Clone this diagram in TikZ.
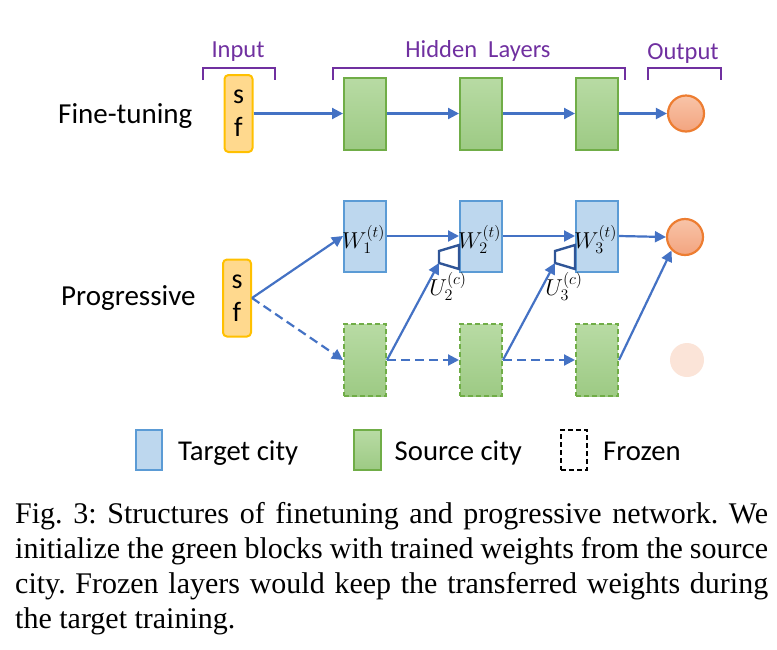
\RequirePackage{fix-cm}
\documentclass[tikz,border=0pt]{standalone}
\usepackage{fontspec}
\setmainfont{Carlito}
\newfontfamily\captionfont{Liberation Serif}
\usetikzlibrary{positioning,calc,arrows.meta}

\definecolor{flowblue}{HTML}{4472C4}
\definecolor{titlepurple}{HTML}{7030A0}
\definecolor{inputfill}{HTML}{FFD98E}
\definecolor{inputedge}{HTML}{FFC000}
\definecolor{targetfill}{HTML}{BDD7EE}
\definecolor{targetedge}{HTML}{5B9BD5}
\definecolor{sourcetop}{HTML}{B8DBA4}
\definecolor{sourcebottom}{HTML}{9DCA84}
\definecolor{sourceedge}{HTML}{70AD47}
\definecolor{outtop}{HTML}{F8C4A8}
\definecolor{outbottom}{HTML}{F3A47F}
\definecolor{outedge}{HTML}{ED7D31}
\definecolor{ghostfill}{HTML}{FBE4D8}
\definecolor{adapteredge}{HTML}{2F5597}

\tikzset{
    row-label/.style = {anchor=base west, inner sep=0pt, font=\fontsize{29}{35}\selectfont},
    title-text/.style = {anchor=base, inner sep=0pt, text=titlepurple, font=\fontsize{24.5}{30}\selectfont},
    bracket-line/.style = {draw=titlepurple, line width=2.6pt},
    input-box/.style = {draw=inputedge, fill=inputfill, line width=2pt, rounded corners=4pt, minimum width=28pt, minimum height=77pt, inner sep=0pt, align=center, font=\fontsize{28}{33}\selectfont},
    source-box/.style = {draw=sourceedge, top color=sourcetop, bottom color=sourcebottom, line width=2pt, minimum width=42pt, minimum height=72pt, inner sep=0pt},
    target-box/.style = {draw=targetedge, fill=targetfill, line width=2pt, minimum width=42pt, minimum height=71pt, inner sep=0pt},
    frozen-edge/.style = {dash pattern=on 5pt off 3pt},
    output-node/.style = {circle, draw=outedge, top color=outtop, bottom color=outbottom, line width=2.2pt, minimum size=36pt, inner sep=0pt},
    ghost-node/.style = {circle, fill=ghostfill, minimum size=34pt, inner sep=0pt},
    flow/.style = {draw=flowblue, line width=2.2pt, -{Triangle[length=11pt,width=11pt]}},
    frozen-flow/.style = {flow, dash pattern=on 9pt off 5pt},
    adapter/.style = {draw=adapteredge, fill=white, line width=2.4pt, line join=miter},
    math-label/.style = {inner sep=0pt, font=\fontsize{23}{28}\selectfont},
    key-text/.style = {anchor=base west, inner sep=0pt, font=\fontsize{28.7}{34}\selectfont},
    caption-text/.style = {anchor=base west, inner sep=0pt, text width=753pt, align=justify, font=\captionfont\fontsize{30}{35}\selectfont\frenchspacing},
}

\begin{document}
\begin{tikzpicture}[x=1pt,y=-1pt]
\useasboundingbox (0,0) rectangle (777,649);

% titles and brackets
\draw[bracket-line] (203,80) -- (203,68) -- (275,68) -- (275,80);
\draw[bracket-line] (333,80) -- (333,68) -- (625,68) -- (625,80);
\draw[bracket-line] (648,80) -- (648,68) -- (721,68) -- (721,80);
\node[title-text] (input-title) at (238,57) {Input};
\node[title-text] (hidden-title) at (478,57) {Hidden~~Layers};
\node[title-text] (output-title) at (683,59) {Output};

% fine-tuning
\node[row-label] (ft-label) at (58,123) {Fine-tuning};
\node[input-box] (ft-in) at (238.5,113.5) {s\\f};
\node[source-box] (ft-h1) at (365,113.5) {};
\node[source-box, right=72pt of ft-h1] (ft-h2) {};
\node[source-box, right=72pt of ft-h2] (ft-h3) {};
\node[output-node] (ft-out) at (686,113.5) {};

\draw[flow] (ft-in.east) -- (ft-h1.west);
\draw[flow] (ft-h1.east) -- (ft-h2.west);
\draw[flow] (ft-h2.east) -- (ft-h3.west);
\draw[flow] (ft-h3.east) -- (ft-out.west);

% progressive
\node[row-label] (pg-label) at (61,305) {Progressive};
\node[input-box] (pg-in) at (237,298) {s\\f};
\node[target-box] (w1) at (365,236) {};
\node[target-box, right=72pt of w1] (w2) {};
\node[target-box, right=72pt of w2] (w3) {};
\node[source-box, frozen-edge] (s1) at (365,360) {};
\node[source-box, frozen-edge, right=72pt of s1] (s2) {};
\node[source-box, frozen-edge, right=72pt of s2] (s3) {};
\node[output-node] (pg-out) at (685,237) {};
\node[ghost-node] (pg-ghost) at (687,360) {};

\foreach \i in {1,2,3}
    \node[math-label, anchor=west] (w\i-label) at ($(w\i.west)+(-1,3)$) {$W_{\i}^{(t)}$};

\draw[flow] (pg-in.east) -- (w1.west);
\draw[frozen-flow] (pg-in.east) -- (s1.west);
\draw[flow] (w1.east) -- (w2.west);
\draw[flow] (w2.east) -- (w3.west);
\draw[flow] (w3.east) -- (pg-out.west);
\draw[frozen-flow] (s1.east) -- (s2.west);
\draw[frozen-flow] (s2.east) -- (s3.west);

% lateral adapters
\foreach \i in {2,3} {
    \draw[adapter] ($(w\i.west)+(0,9)$) coordinate (u\i-a) -- ++(-20,6) coordinate (u\i-b)
        -- ++(0,12) coordinate (u\i-c) -- ($(w\i.west)+(0,33)$) coordinate (u\i-d) -- cycle;
    \node[math-label] (u\i-label) at ($(u\i-c)+(9,23)$) {$U_{\i}^{(c)}$};
}
\draw[flow] (s1.east) -- (u2-c);
\draw[flow] (s2.east) -- (u3-c);
\draw[flow] (s3.east) -- (pg-out.south west);

% key
\node[target-box, minimum width=26pt, minimum height=40pt] (key-target) at (149,450) {};
\node[key-text] (key-target-text) at ($(key-target.east)+(15,10)$) {Target city};
\node[source-box, minimum width=27pt, minimum height=40pt] (key-source) at (367,450) {};
\node[key-text] (key-source-text) at ($(key-source.east)+(13,10)$) {Source city};
\node[draw=black, frozen-edge, line width=2pt, minimum width=26pt, minimum height=40pt, inner sep=0pt] (key-frozen) at (574,450) {};
\node[key-text] (key-frozen-text) at ($(key-frozen.east)+(15,10)$) {Frozen};

% caption
\node[caption-text] (caption) at (15,523) {Fig. 3: Structures of finetuning and progressive network. We\linebreak
initialize the green blocks with trained weights from the source\linebreak
city. Frozen layers would keep the transferred weights during\linebreak
the target training.};
\end{tikzpicture}
\end{document}
